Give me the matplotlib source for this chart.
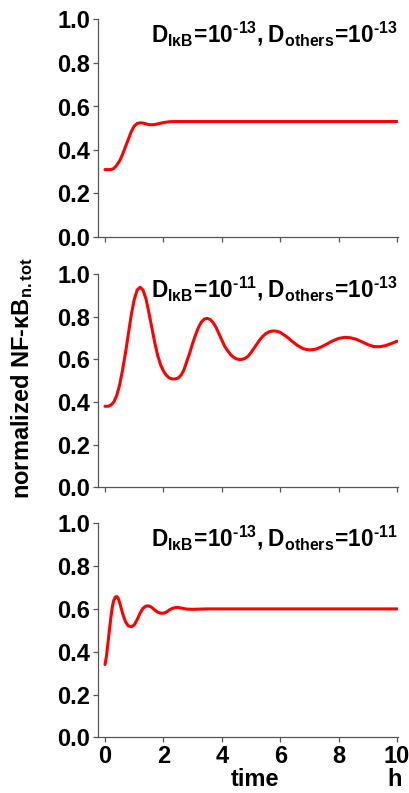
import matplotlib
matplotlib.use("Agg")
import matplotlib.pyplot as plt

plt.rcParams['font.family'] = ['Liberation Sans', 'DejaVu Sans']
plt.rcParams['font.weight'] = 'bold'
plt.rcParams['mathtext.fontset'] = 'custom'
plt.rcParams['mathtext.rm'] = 'Lato:bold'
plt.rcParams['mathtext.bf'] = 'Lato:bold'
plt.rcParams['mathtext.it'] = 'Lato:bold'
plt.rcParams['mathtext.sf'] = 'Lato:bold'

# ---- data ----
t1 = [0, 0.1, 0.2, 0.3, 0.4, 0.5, 0.6, 0.7, 0.8, 0.9, 1.0, 1.1, 1.2, 1.3, 1.4, 1.5,
      1.6, 1.7, 1.8, 1.9, 2.0, 2.2, 2.5, 3.0, 10.0]
y1 = [0.31, 0.31, 0.31, 0.315, 0.33, 0.35, 0.38, 0.415, 0.45, 0.485, 0.51, 0.522,
      0.525, 0.524, 0.52, 0.517, 0.516, 0.517, 0.52, 0.523, 0.526, 0.53, 0.531,
      0.531, 0.531]

t2 = [0, 0.1, 0.2, 0.3, 0.4, 0.5, 0.6, 0.7, 0.8, 0.9, 1.0, 1.1, 1.2, 1.3, 1.4, 1.5,
      1.6, 1.7, 1.8, 1.9, 2.0, 2.1, 2.2, 2.3, 2.4, 2.5, 2.6, 2.7, 2.8, 2.9, 3.0,
      3.1, 3.2, 3.3, 3.4, 3.5, 3.6, 3.7, 3.8, 3.9, 4.0, 4.1, 4.2, 4.3, 4.4, 4.5,
      4.6, 4.7, 4.8, 4.9, 5.0, 5.1, 5.2, 5.3, 5.4, 5.5, 5.6, 5.7, 5.8, 5.9, 6.0,
      6.2, 6.4, 6.6, 6.8, 7.0, 7.2, 7.4, 7.6, 7.8, 8.0, 8.2, 8.4, 8.6, 8.8, 9.0,
      9.2, 9.4, 9.6, 9.8, 10.0]
y2 = [0.38, 0.38, 0.385, 0.40, 0.43, 0.48, 0.55, 0.63, 0.72, 0.81, 0.88, 0.925,
      0.938, 0.925, 0.885, 0.82, 0.75, 0.68, 0.62, 0.575, 0.545, 0.525, 0.513,
      0.508, 0.508, 0.512, 0.525, 0.55, 0.59, 0.63, 0.675, 0.715, 0.75, 0.775,
      0.789, 0.792, 0.787, 0.772, 0.75, 0.72, 0.69, 0.66, 0.64, 0.622, 0.61,
      0.602, 0.599, 0.6, 0.605, 0.615, 0.632, 0.652, 0.672, 0.692, 0.708, 0.72,
      0.728, 0.732, 0.733, 0.731, 0.726, 0.708, 0.685, 0.664, 0.649, 0.644,
      0.647, 0.658, 0.672, 0.687, 0.698, 0.703, 0.701, 0.694, 0.682, 0.669,
      0.66, 0.659, 0.664, 0.674, 0.685]

t3 = [0, 0.05, 0.1, 0.15, 0.2, 0.25, 0.3, 0.35, 0.4, 0.45, 0.5, 0.55, 0.6, 0.7,
      0.8, 0.9, 1.0, 1.1, 1.2, 1.3, 1.4, 1.5, 1.6, 1.7, 1.8, 1.9, 2.0, 2.1, 2.2,
      2.3, 2.4, 2.5, 2.6, 2.8, 3.0, 3.5, 10.0]
y3 = [0.34, 0.38, 0.44, 0.50, 0.56, 0.61, 0.64, 0.655, 0.658, 0.65, 0.63, 0.605,
      0.58, 0.54, 0.52, 0.517, 0.525, 0.55, 0.58, 0.603, 0.613, 0.614, 0.607,
      0.595, 0.585, 0.58, 0.58, 0.585, 0.595, 0.602, 0.606, 0.607, 0.604, 0.599,
      0.598, 0.6, 0.6]

series = [(t1, y1), (t2, y2), (t3, y3)]
labels = [
    r'$\mathregular{D_{I\kappa B}\!=\!10^{‐13}{,}\;D_{others}\!=\!10^{‐13}}$',
    r'$\mathregular{D_{I\kappa B}\!=\!10^{‐11}{,}\;D_{others}\!=\!10^{‐13}}$',
    r'$\mathregular{D_{I\kappa B}\!=\!10^{‐13}{,}\;D_{others}\!=\!10^{‐11}}$',
]
yticks = [0.0, 0.2, 0.4, 0.6, 0.8, 1.0]
xticks = [0, 2, 4, 6, 8, 10]

W, H = 410, 793
fig = plt.figure(figsize=(W / 100, H / 100), dpi=100)

panels = [(19.5, 237.0), (274.0, 487.3), (523.3, 737.3)]
left_px, right_px = 98, 398
for i, ((top, bot), (tt, yy), lab) in enumerate(zip(panels, series, labels)):
    ax = fig.add_axes([left_px / W, 1 - bot / H, (right_px - left_px) / W, (bot - top) / H])
    ax.plot(tt, yy, color='#ff0000', lw=2.2, solid_capstyle='round')
    ax.set_xlim(-0.24, 10.03)
    ax.set_ylim(0, 1.0)
    ax.set_yticks(yticks)
    ax.set_yticklabels([f'{v:.1f}' for v in yticks], fontsize=17, fontweight='bold')
    ax.set_xticks(xticks)
    for s in ['top', 'right']:
        ax.spines[s].set_visible(False)
    for s in ['left', 'bottom']:
        ax.spines[s].set_color('#555555')
        ax.spines[s].set_linewidth(0.9)
    ax.tick_params(direction='out', length=3.5, width=0.9, color='#555555', pad=2)
    if i < 2:
        ax.set_xticklabels([])
    else:
        ax.set_xticklabels([str(v) for v in xticks], fontsize=17, fontweight='bold')
    ax.text(1.0, 1.0, lab, transform=ax.transAxes, ha='right', va='top', fontsize=16.3)

fig.text(22 / W, 1 - 378 / H, r'normalized NF-κB$_{\mathregular{n{.}tot}}$', rotation=90,
         ha='center', va='center', fontsize=17, fontweight='bold')
fig.text(255 / W, 1 - 780 / H, 'time', ha='center', va='center', fontsize=17, fontweight='bold')
fig.text(395 / W, 1 - 780 / H, 'h', ha='center', va='center', fontsize=17, fontweight='bold')

fig.savefig('out.png', dpi=100)
